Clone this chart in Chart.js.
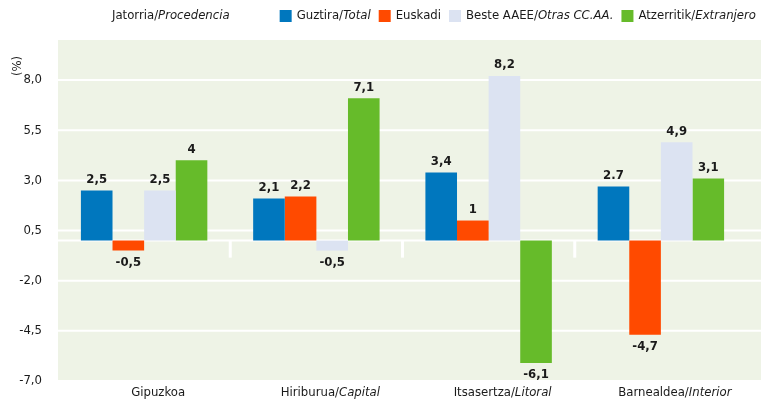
<!DOCTYPE html>
<html>
<head>
<meta charset="utf-8">
<style>
html, body { margin: 0; padding: 0; background: #fff; }
#wrap { width: 764px; height: 403px; }
</style>
<script src="https://cdn.jsdelivr.net/npm/chart.js@4.4.1/dist/chart.umd.min.js"></script>
</head>
<body>
<div id="wrap"><canvas id="chart" width="764" height="403"></canvas></div>
<script>
// datos
const categories = ['Gipuzkoa', 'Hiriburua/Capital', 'Itsasertza/Litoral', 'Barnealdea/Interior'];
const seriesNames = ['Guztira/Total', 'Euskadi', 'Beste AAEE/Otras CC.AA.', 'Atzerritik/Extranjero'];
const total = [2.5, 2.1, 3.4, 2.7];
const euskadi = [-0.5, 2.2, 1, -4.7];
const otras = [2.5, -0.5, 8.2, 4.9];
const extranjero = [4, 7.1, -6.1, 3.1];
const totalLabels = ['2,5', '2,1', '3,4', '2.7'];
const euskadiLabels = ['-0,5', '2,2', '1', '-4,7'];
const otrasLabels = ['2,5', '-0,5', '8,2', '4,9'];
const extranjeroLabels = ['4', '7,1', '-6,1', '3,1'];
const yTicks = [-7, -4.5, -2, 0.5, 3, 5.5, 8];
const yTickLabels = ['-7,0', '-4,5', '-2,0', '0,5', '3,0', '5,5', '8,0'];

const colors = ['#0077be', '#ff4a00', '#dce3f2', '#66bb2a'];
const FONT = "'Liberation Sans Narrow', 'DejaVu Sans Condensed', 'Arial Narrow', sans-serif";
const TEXT = '#1a1a1a';
const SIZE = 13;

// escribe "normal/cursiva"
function drawMixed(ctx, text, x, y, size, align) {
    const i = text.indexOf('/');
    const a = i < 0 ? text : text.slice(0, i + 1);
    const b = i < 0 ? '' : text.slice(i + 1);
    ctx.font = size + 'px ' + FONT;
    const wa = ctx.measureText(a).width;
    ctx.font = 'italic ' + size + 'px ' + FONT;
    const wb = ctx.measureText(b).width;
    let sx = x;
    if (align === 'center') sx = x - (wa + wb) / 2;
    ctx.textAlign = 'left';
    ctx.textBaseline = 'middle';
    ctx.fillStyle = TEXT;
    ctx.font = size + 'px ' + FONT;
    ctx.fillText(a, sx, y);
    ctx.font = 'italic ' + size + 'px ' + FONT;
    ctx.fillText(b, sx + wa, y);
    return wa + wb;
}

function measureMixed(ctx, text, size) {
    const i = text.indexOf('/');
    const a = i < 0 ? text : text.slice(0, i + 1);
    const b = i < 0 ? '' : text.slice(i + 1);
    ctx.font = size + 'px ' + FONT;
    const wa = ctx.measureText(a).width;
    ctx.font = 'italic ' + size + 'px ' + FONT;
    return wa + ctx.measureText(b).width;
}

const decor = {
    id: 'decor',
    beforeDatasetsDraw(chart) {
        const { ctx, chartArea: a, scales } = chart;
        const right = chart.width - 3;
        ctx.save();
        ctx.fillStyle = '#eef3e6';
        ctx.fillRect(a.left, a.top, right - a.left, a.bottom - a.top);
        ctx.strokeStyle = '#ffffff';
        ctx.lineWidth = 2;
        // rejilla horizontal
        yTicks.concat([0]).forEach(v => {
            const y = scales.y.getPixelForValue(v);
            ctx.beginPath();
            ctx.moveTo(a.left, y);
            ctx.lineTo(right, y);
            ctx.stroke();
        });
        // separadores cortos entre grupos
        const y0 = scales.y.getPixelForValue(0);
        const yEnd = scales.y.getPixelForValue(-0.85);
        ctx.lineWidth = 3;
        for (let i = 1; i < categories.length; i++) {
            const x = (scales.x.getPixelForValue(i - 1) + scales.x.getPixelForValue(i)) / 2;
            ctx.beginPath();
            ctx.moveTo(x, y0);
            ctx.lineTo(x, yEnd);
            ctx.stroke();
        }
        ctx.restore();
    },
    afterDatasetsDraw(chart) {
        const { ctx } = chart;
        ctx.save();
        chart.data.datasets.forEach((ds, di) => {
            const meta = chart.getDatasetMeta(di);
            meta.data.forEach((el, i) => {
                const v = ds.data[i];
                const y = v >= 0 ? el.y - 11 : el.y + 12;
                ctx.font = 'bold 13px ' + FONT;
                ctx.fillStyle = TEXT;
                ctx.textAlign = 'center';
                ctx.textBaseline = 'middle';
                ctx.fillText(ds.valueLabels[i], el.x, y);
            });
        });
        ctx.restore();
    },
    afterDraw(chart) {
        const { ctx, scales } = chart;
        ctx.save();
        // etiquetas del eje x
        categories.forEach((c, i) => {
            drawMixed(ctx, c, scales.x.getPixelForValue(i) + 14, 393, SIZE, 'center');
        });
        // titulo de la leyenda
        drawMixed(ctx, 'Jatorria/Procedencia', 112, 16, SIZE, 'left');
        // leyenda
        const box = 12, gap = 5, sep = 8;
        let tot = 0;
        chart.data.datasets.forEach((ds, i) => {
            tot += box + gap + measureMixed(ctx, ds.label, SIZE) + (i ? sep : 0);
        });
        let x = 756 - tot;
        chart.data.datasets.forEach((ds) => {
            ctx.fillStyle = ds.backgroundColor;
            ctx.fillRect(x, 10, box, box);
            x += box + gap;
            x += drawMixed(ctx, ds.label, x, 16, SIZE, 'left') + sep;
        });
        // (%)
        ctx.translate(18, 66);
        ctx.rotate(-Math.PI / 2);
        ctx.font = SIZE + 'px ' + FONT;
        ctx.fillStyle = TEXT;
        ctx.textAlign = 'center';
        ctx.textBaseline = 'middle';
        ctx.fillText('(%)', 0, 0);
        ctx.restore();
    }
};

const seriesValues = [total, euskadi, otras, extranjero];
const seriesLabels = [totalLabels, euskadiLabels, otrasLabels, extranjeroLabels];

new Chart(document.getElementById('chart').getContext('2d'), {
    type: 'bar',
    data: {
        labels: categories,
        datasets: seriesNames.map((name, i) => ({
            label: name,
            data: seriesValues[i],
            valueLabels: seriesLabels[i],
            backgroundColor: colors[i],
            borderWidth: 0,
            categoryPercentage: 0.734,
            barPercentage: 1.0
        }))
    },
    options: {
        responsive: false,
        animation: false,
        devicePixelRatio: 1,
        layout: { padding: { top: 40, right: 17, left: 0, bottom: 0 } },
        plugins: {
            legend: { display: false },
            tooltip: { enabled: false }
        },
        scales: {
            x: {
                grid: { display: false },
                border: { display: false },
                ticks: { display: false },
                afterFit: function (s) { s.height = 22; }
            },
            y: {
                min: -7,
                max: 10,
                afterBuildTicks: function (s) { s.ticks = yTicks.map(v => ({ value: v })); },
                afterFit: function (s) { s.width = 58; },
                grid: { display: false },
                border: { display: false },
                ticks: {
                    padding: 8,
                    color: TEXT,
                    font: { family: FONT, size: SIZE },
                    callback: function (v, i) { return yTickLabels[i]; }
                }
            }
        }
    },
    plugins: [decor]
});
</script>
</body>
</html>
